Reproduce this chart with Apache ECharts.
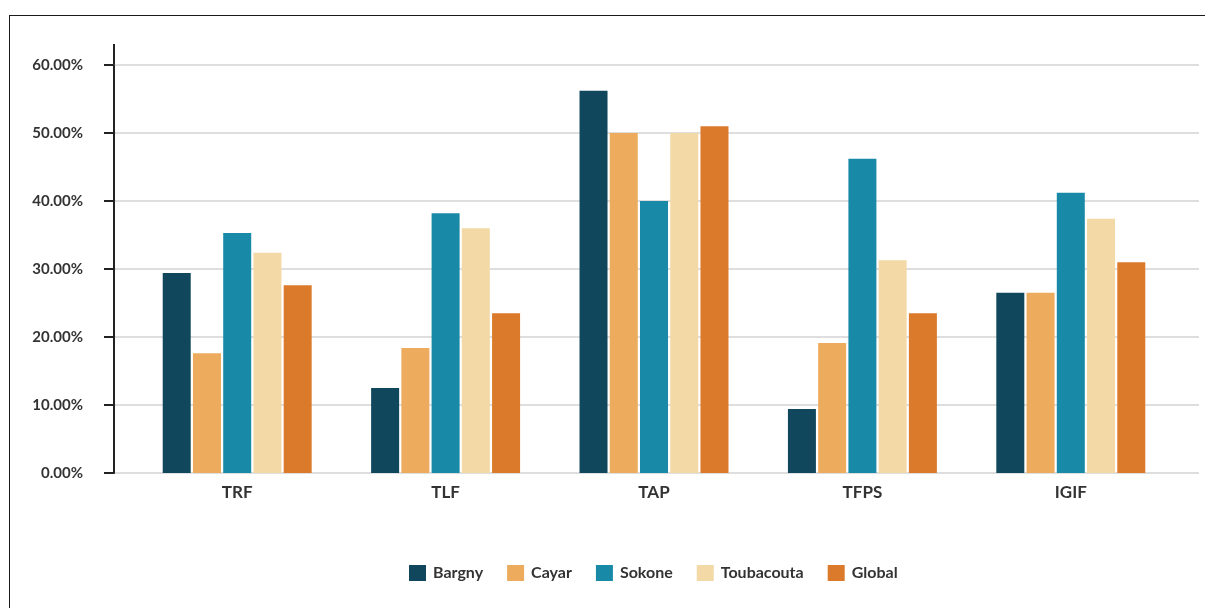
<!DOCTYPE html>
<html>
<head>
<meta charset="utf-8">
<script src="https://cdn.jsdelivr.net/npm/echarts@6/dist/echarts.min.js"></script>
<style>
  html, body { margin: 0; padding: 0; background: #fff; }
  #frame {
    position: absolute; left: 9px; top: 15px; right: 0; bottom: 0;
    border-top: 1px solid #1a1a1a; border-left: 1px solid #1a1a1a;
  }
  #main { position: absolute; left: 0; top: 0; width: 1205px; height: 608px; }
</style>
</head>
<body>
<div id="frame"></div>
<div id="main"></div>
<script>
// categories and values (percent)
var categories = ["TRF", "TLF", "TAP", "TFPS", "IGIF"];
var bargny = [29.4, 12.5, 56.2, 9.4, 26.5];
var cayar = [17.6, 18.4, 50.0, 19.1, 26.5];
var sokone = [35.3, 38.2, 40.0, 46.2, 41.2];
var toubacouta = [32.4, 36.0, 50.0, 31.3, 37.4];
var global = [27.6, 23.5, 51.0, 23.5, 31.0];
var yTicks = [0, 10, 20, 30, 40, 50, 60];

var colors = ["#10475c", "#ecab5d", "#1889a6", "#f3d9a6", "#db7a2a"];
var names = ["Bargny", "Cayar", "Sokone", "Toubacouta", "Global"];
var values = [bargny, cayar, sokone, toubacouta, global];

var font = "Lato";
var myChart = echarts.init(document.getElementById("main"));

var series = names.map(function (n, i) {
  return {
    name: n,
    type: "bar",
    xAxisIndex: 1,
    yAxisIndex: 1,
    data: values[i],
    barWidth: 28,
    barGap: "8%",
    itemStyle: { color: colors[i] }
  };
});

var option = {
  animation: false,
  color: colors,
  textStyle: { fontFamily: font },
  grid: [
    { left: 114, right: 6, top: 65, bottom: 135 },
    { left: 133, right: 30, top: 65, bottom: 135 }
  ],
  legend: {
    left: 404,
    top: 560,
    itemWidth: 17,
    itemHeight: 16,
    itemGap: 24,
    icon: "rect",
    data: names,
    textStyle: { fontFamily: font, fontWeight: "bold", fontSize: 16, color: "#333", padding: [0, 0, 0, 2] }
  },
  xAxis: [
    { gridIndex: 0, type: "category", data: categories, show: false },
    {
      gridIndex: 1,
      type: "category",
      data: categories,
      axisLine: { show: false },
      axisTick: { show: false },
      axisLabel: { margin: 11, fontFamily: font, fontWeight: "bold", fontSize: 17, color: "#333" }
    }
  ],
  yAxis: [
    {
      gridIndex: 0,
      type: "value",
      min: yTicks[0],
      max: yTicks[yTicks.length - 1],
      interval: 10,
      axisLine: { show: true, lineStyle: { color: "#222", width: 2 } },
      axisTick: { show: true, length: 10, lineStyle: { color: "#222", width: 2 } },
      axisLabel: {
        margin: 31,
        fontFamily: font,
        fontWeight: "bold",
        fontSize: 15,
        color: "#333",
        formatter: function (v) { return v.toFixed(2) + "%"; }
      },
      splitLine: { show: true, lineStyle: { color: "#dedede", width: 2 } }
    },
    {
      gridIndex: 1,
      type: "value",
      min: yTicks[0],
      max: yTicks[yTicks.length - 1],
      show: false,
      splitLine: { show: false }
    }
  ],
  graphic: [
    {
      type: "line",
      shape: { x1: 114, y1: 44, x2: 114, y2: 66 },
      style: { stroke: "#222", lineWidth: 2 }
    }
  ],
  series: series
};

option && myChart.setOption(option);
</script>
</body>
</html>
